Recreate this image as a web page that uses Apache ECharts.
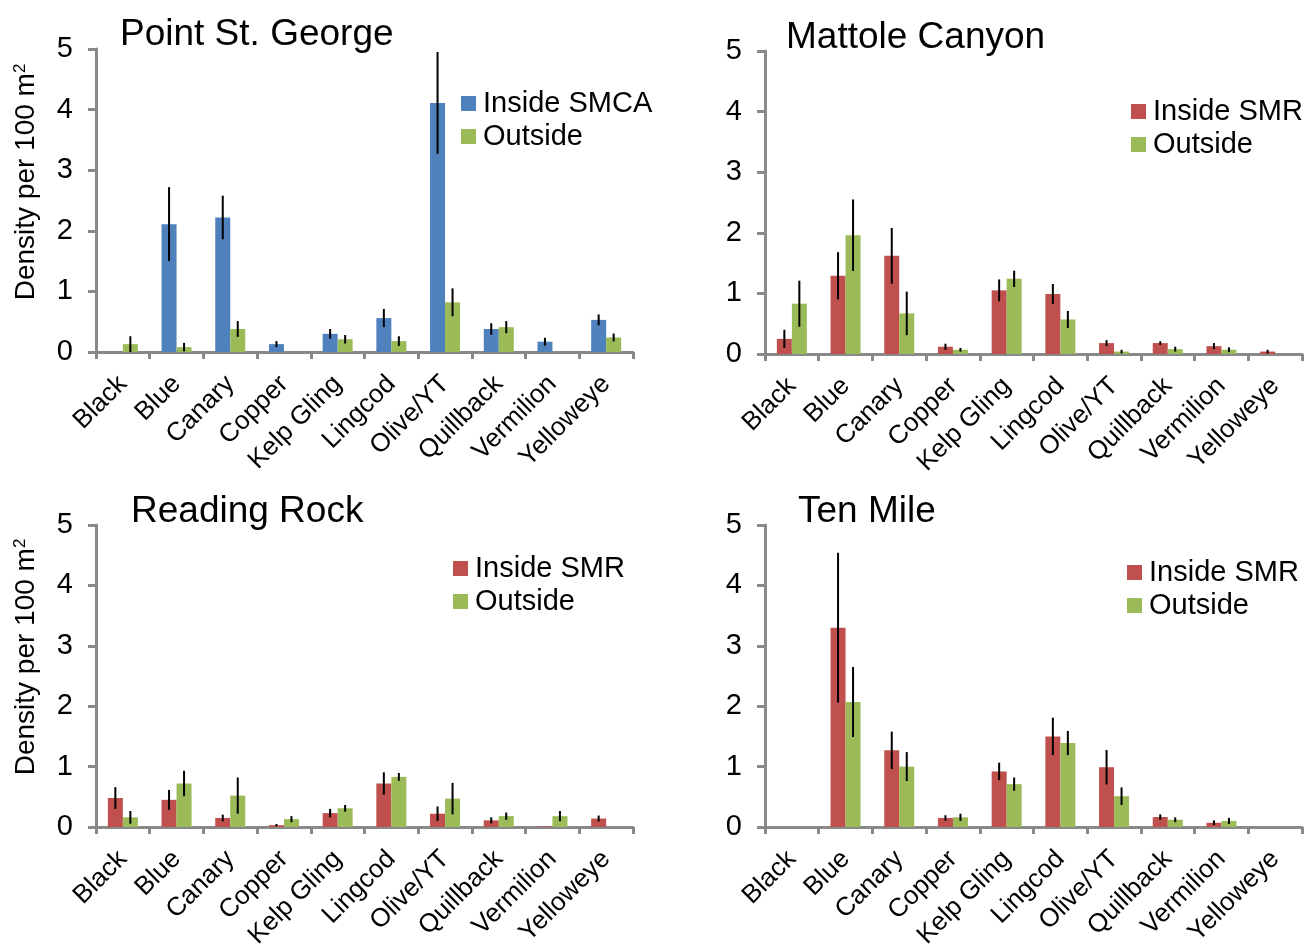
<!DOCTYPE html>
<html>
<head>
<meta charset="utf-8">
<script src="https://cdn.jsdelivr.net/npm/echarts@6/dist/echarts.min.js"></script>
<style>html,body{margin:0;padding:0;background:#fff}#c{width:1305px;height:945px}</style>
</head>
<body>
<div id="c"></div>
<script>
const categories = ['Black','Blue','Canary','Copper','Kelp Gling','Lingcod','Olive/YT','Quillback','Vermilion','Yelloweye'];
const yTicks = [0, 1, 2, 3, 4, 5];

const panelTitles = ['Point St. George', 'Mattole Canyon', 'Reading Rock', 'Ten Mile'];
const insideNames = ['Inside SMCA', 'Inside SMR', 'Inside SMR', 'Inside SMR'];
const outsideName = 'Outside';
const yAxisName = 'Density per 100 m';

const psgInside     = [0, 2.11, 2.22, 0.13, 0.30, 0.56, 4.11, 0.38, 0.17, 0.53];
const psgInsideErr  = [0, 0.61, 0.36, 0.05, 0.08, 0.15, 0.84, 0.095, 0.065, 0.09];
const psgOutside    = [0.13, 0.08, 0.38, 0, 0.21, 0.18, 0.82, 0.41, 0, 0.24];
const psgOutsideErr = [0.13, 0.07, 0.13, 0, 0.07, 0.08, 0.23, 0.10, 0, 0.065];

const mcInside      = [0.25, 1.29, 1.62, 0.12, 1.05, 0.99, 0.18, 0.18, 0.13, 0.04];
const mcInsideErr   = [0.15, 0.39, 0.46, 0.05, 0.18, 0.165, 0.05, 0.03, 0.05, 0.03];
const mcOutside     = [0.83, 1.96, 0.67, 0.07, 1.24, 0.57, 0.04, 0.08, 0.07, 0];
const mcOutsideErr  = [0.38, 0.59, 0.36, 0.03, 0.135, 0.14, 0.03, 0.04, 0.04, 0];

const rrInside      = [0.48, 0.45, 0.15, 0.03, 0.23, 0.72, 0.22, 0.11, 0.01, 0.14];
const rrInsideErr   = [0.18, 0.165, 0.055, 0.02, 0.07, 0.185, 0.12, 0.05, 0, 0.05];
const rrOutside     = [0.16, 0.72, 0.52, 0.13, 0.31, 0.83, 0.47, 0.18, 0.18, 0];
const rrOutsideErr  = [0.105, 0.21, 0.30, 0.05, 0.055, 0.065, 0.26, 0.06, 0.085, 0];

const tmInside      = [0, 3.30, 1.27, 0.15, 0.92, 1.50, 0.99, 0.165, 0.07, 0];
const tmInsideErr   = [0, 1.24, 0.31, 0.045, 0.145, 0.31, 0.285, 0.045, 0.04, 0];
const tmOutside     = [0, 2.07, 1.00, 0.16, 0.71, 1.39, 0.51, 0.12, 0.10, 0];
const tmOutsideErr  = [0, 0.58, 0.24, 0.06, 0.11, 0.20, 0.145, 0.04, 0.05, 0];

const panelsData = [
  [psgInside, psgInsideErr, psgOutside, psgOutsideErr],
  [mcInside, mcInsideErr, mcOutside, mcOutsideErr],
  [rrInside, rrInsideErr, rrOutside, rrOutsideErr],
  [tmInside, tmInsideErr, tmOutside, tmOutsideErr]
];

const FONT = 'Liberation Sans, Arial, sans-serif';
const BLUE = '#4F81BD', RED = '#C0504D', GREEN = '#9BBB59', AXIS = '#898989';
const BARW = 15;

const grids = [
  {left: 96, top: 49, width: 537, height: 303, outerBoundsMode: 'none', containLabel: false},
  {left: 765, top: 51, width: 537, height: 303, outerBoundsMode: 'none', containLabel: false},
  {left: 96, top: 525, width: 537, height: 302, outerBoundsMode: 'none', containLabel: false},
  {left: 765, top: 525, width: 537, height: 302, outerBoundsMode: 'none', containLabel: false}
];
const titlePos = [{left: 120, top: 16}, {left: 786, top: 19}, {left: 131, top: 493}, {left: 798, top: 493}];
const legendPos = [{left: 461, top: 89}, {left: 1131, top: 97}, {left: 453, top: 554}, {left: 1127, top: 558}];

const option = {
  animation: false,
  backgroundColor: '#fff',
  textStyle: {fontFamily: FONT},
  title: panelTitles.map((t, i) => ({
    text: t, left: titlePos[i].left, top: titlePos[i].top, padding: 0,
    textStyle: {fontFamily: FONT, fontSize: 37, fontWeight: 'normal', color: '#000'}
  })),
  legend: insideNames.map((n, i) => ({
    data: [n, outsideName], orient: 'vertical', left: legendPos[i].left, top: legendPos[i].top,
    padding: 0, itemGap: 4, itemWidth: 15, itemHeight: 15, icon: 'rect', selectedMode: false,
    textStyle: {fontFamily: FONT, fontSize: 29, color: '#000', padding: [0, 0, 0, 2]}
  })),
  grid: grids,
  xAxis: grids.map((g, i) => ({
    type: 'category', gridIndex: i, data: categories, boundaryGap: true,
    axisLine: {lineStyle: {color: AXIS, width: 3}},
    axisTick: {show: true, length: 7, lineStyle: {color: AXIS, width: 3}},
    axisLabel: {interval: 0, rotate: 45, fontSize: 26, color: '#000', fontFamily: FONT, margin: 28}
  })),
  yAxis: grids.map((g, i) => ({
    type: 'value', gridIndex: i, min: yTicks[0], max: yTicks[yTicks.length - 1], interval: 1,
    splitLine: {show: false},
    axisLine: {show: true, lineStyle: {color: AXIS, width: 3}},
    axisTick: {show: true, length: 8, lineStyle: {color: AXIS, width: 3}},
    axisLabel: {fontSize: 29, color: '#000', fontFamily: FONT, margin: 23}
  })),
  graphic: [182, 657].map(y => ({
    type: 'text', x: 26, y: y, rotation: Math.PI / 2,
    style: {
      text: '{a|' + yAxisName + '}{b|2}', textAlign: 'center', textVerticalAlign: 'middle',
      rich: {
        a: {fontFamily: FONT, fontSize: 28, fill: '#000'},
        b: {fontFamily: FONT, fontSize: 17, fill: '#000', verticalAlign: 'top', padding: [0, 0, 12, 0]}
      }
    }
  })),
  series: []
};

function errSeries(gi, vals, errs, offset) {
  return {
    type: 'custom', xAxisIndex: gi, yAxisIndex: gi, z: 10, silent: true,
    data: vals.map((v, k) => [k, v, errs[k]]),
    encode: {x: 0, y: 1},
    renderItem: function (params, api) {
      const k = api.value(0), v = api.value(1), e = api.value(2);
      if (!e) return null;
      const top = api.coord([k, v + e]);
      const bot = api.coord([k, Math.max(0, v - e)]);
      const x = top[0] + offset;
      return {type: 'line', shape: {x1: x, y1: top[1], x2: x, y2: bot[1]},
        style: {stroke: '#000', lineWidth: 2}};
    }
  };
}

panelsData.forEach((d, i) => {
  const inColor = i === 0 ? BLUE : RED;
  option.series.push({
    name: insideNames[i], type: 'bar', xAxisIndex: i, yAxisIndex: i, data: d[0],
    barWidth: BARW, barGap: '0%', itemStyle: {color: inColor}
  });
  option.series.push({
    name: outsideName, type: 'bar', xAxisIndex: i, yAxisIndex: i, data: d[2],
    barWidth: BARW, barGap: '0%', itemStyle: {color: GREEN}
  });
  option.series.push(errSeries(i, d[0], d[1], -BARW / 2));
  option.series.push(errSeries(i, d[2], d[3], BARW / 2));
});

const chart = echarts.init(document.getElementById('c'), null, {renderer: 'canvas'});
chart.setOption(option);
</script>
</body>
</html>
